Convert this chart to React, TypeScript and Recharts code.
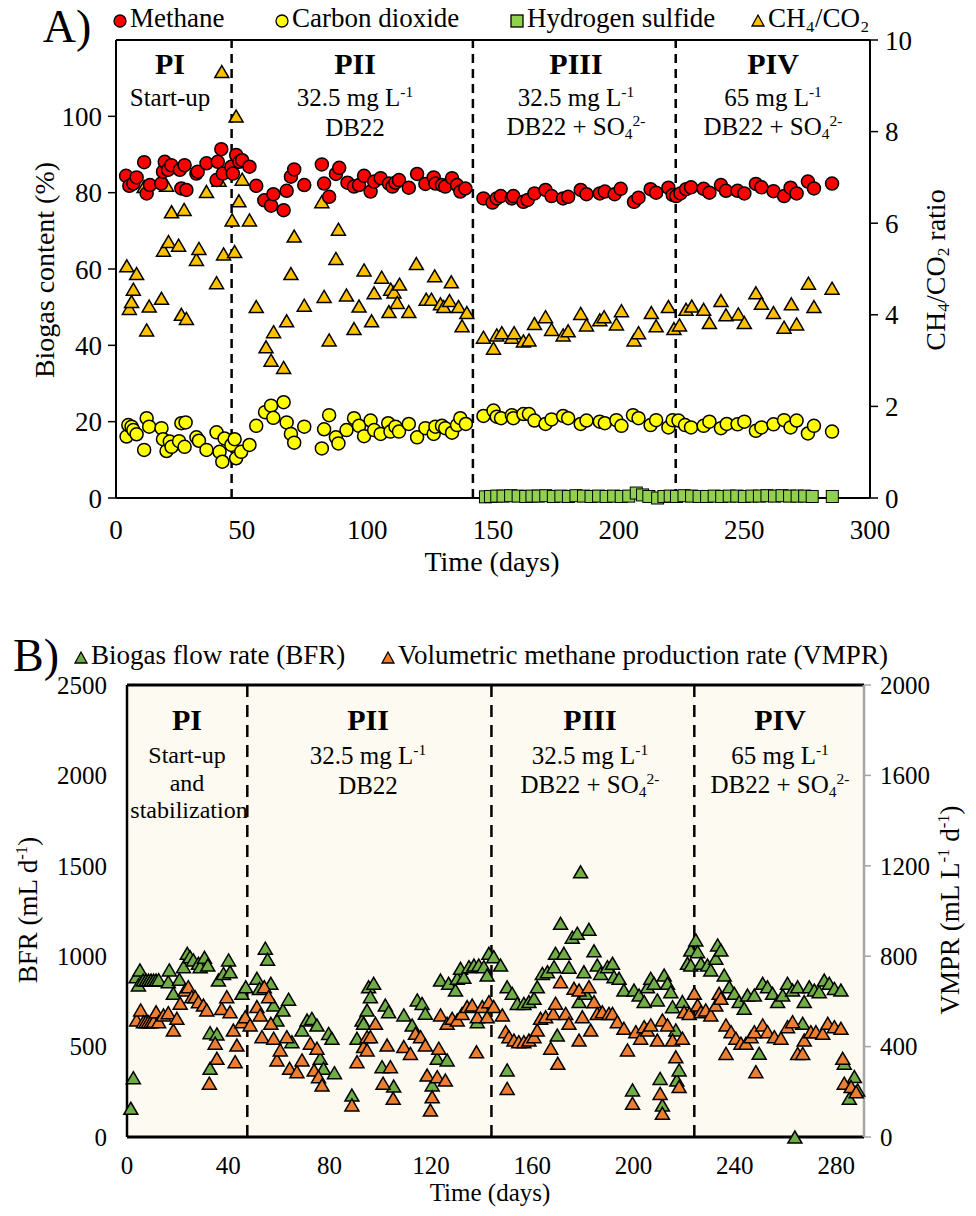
import React from 'react';
import {
  ScatterChart, Scatter, XAxis, YAxis, ReferenceLine, CartesianGrid,
} from 'recharts';

const FONT = '"Liberation Serif", "Times New Roman", serif';

// ---------- Panel A data: [day, value] ----------
const methane: [number, number][] = [
  [4, 84.4], [5.3, 81.8], [6.9, 82.4], [8.2, 84], [11.2, 88], [12.2, 79.8], [13.5, 82],
  [18, 82.4], [18.7, 85.5], [19.4, 88.1], [20.7, 86], [22, 87.2], [25.4, 86], [26, 81.1],
  [27.3, 87.2], [28, 80.7], [32, 85], [32.5, 85.5], [36, 87.7], [40, 83.3], [40.5, 88.1],
  [41.9, 91.4], [42.5, 85], [45.9, 86.8], [46.5, 85], [47.8, 89.9], [49.1, 88.1], [50.2, 88.5],
  [53.1, 86.8], [55.8, 81.8], [59, 78], [61.7, 76.6], [62.6, 79.6], [66.7, 75.4], [67.9, 80.5],
  [69.6, 84.2], [70.9, 86.1], [74.9, 82], [81.9, 87.4], [82.8, 82.4], [84.8, 78.9], [87.5, 84.9],
  [88.8, 86.5], [92.1, 82.6], [94.7, 81.6], [96.7, 82], [98.7, 84.4], [101.3, 80.3], [102.7, 82.9],
  [105.3, 83.8], [108.6, 82.4], [110, 81.6], [111.2, 82.6], [112.6, 83.3], [116.5, 81.3],
  [119.8, 84.9], [123.1, 82.3], [126.4, 84], [127.1, 82.4], [129.7, 82], [131, 81.6], [133.7, 83.8],
  [135.7, 82], [137, 80.3], [139, 81.1], [146.2, 78.5], [149.8, 77.4], [151.5, 78.5], [153.1, 79.1],
  [157.5, 78.5], [158.1, 79.1], [162.1, 77.6], [163.8, 78.1], [166.5, 79.8], [170.9, 80.7],
  [173.3, 79.1], [177.9, 78.5], [179.9, 78.9], [184.9, 80.7], [187.2, 79.6], [192.5, 79.8],
  [194.5, 80.3], [198.4, 79.6], [200.8, 81], [206.1, 77.6], [207.9, 78.7], [212.7, 80.9],
  [214.9, 80], [219.8, 81.3], [221.5, 79.4], [222.9, 79.1], [224.6, 79.8], [226.8, 80.9],
  [228.8, 81.4], [233.8, 81], [236.1, 80], [240.7, 82], [242.7, 80.5], [247.3, 80.5], [250, 79.8],
  [254.6, 82.3], [256.8, 81.4], [261.6, 80.4], [265.8, 79.1], [268.4, 81.3], [270.8, 79.8],
  [275.3, 82.9], [277.7, 81.1], [284.9, 82.4],
];

const carbonDioxide: [number, number][] = [
  [4.2, 16.1], [4.9, 19.1], [6.2, 18.7], [6.9, 17.8], [8.2, 16.7], [11.2, 12.6], [12.2, 20.9],
  [13.2, 18.7], [18.1, 18.3], [18.7, 15.4], [20.1, 12.3], [21.4, 14.8], [22.1, 13.4], [25.1, 14.9],
  [26, 19.6], [27.7, 19.8], [27.3, 13.4], [32, 15.9], [33, 15], [36, 12.6], [40, 17.2], [41.2, 12.1],
  [42.3, 9.5], [43.2, 15.6], [45.9, 13.9], [47.2, 15.4], [47.8, 10.4], [49.8, 12.1], [53.1, 13.9],
  [55.8, 18.9], [59.3, 22.5], [61.7, 24.2], [62.6, 21], [66.7, 25.1], [67.9, 19.8], [69.6, 16.8],
  [70.9, 14.5], [74.9, 18.7], [81.9, 13], [82.8, 18], [84.8, 21.7], [87.5, 15.9], [88.5, 14.3],
  [91.7, 17.8], [94.7, 20.9], [96.7, 18.9], [98.7, 16.2], [101.3, 20.3], [102.7, 17.8],
  [105.3, 16.8], [108.3, 19.6], [109.2, 17.4], [111.2, 18.7], [112.6, 17.4], [116.5, 19.4],
  [119.8, 15.9], [123.1, 18.3], [126.4, 16.8], [127.1, 18.7], [129.7, 18.9], [131, 18.3],
  [133.7, 17.1], [135.7, 19.1], [137, 20.9], [139.2, 19.4], [146.2, 21.5], [150.2, 22.9],
  [151.5, 21.3], [153.2, 20.9], [157.5, 21.7], [158.1, 20.9], [162.1, 22], [164.3, 22],
  [166.5, 20.3], [170.9, 19.4], [173.3, 20.6], [177.9, 21.5], [179.9, 20.9], [184.9, 19.4],
  [187.2, 20.3], [192.5, 20], [194.5, 19.6], [199.1, 20.4], [201.1, 18.9], [205.7, 21.7],
  [207.9, 20.9], [212.7, 19.1], [214.9, 20.4], [219.8, 18.5], [221.5, 20.4], [223.8, 20.3],
  [226.4, 19.1], [228.8, 18.5], [233.8, 18.9], [236.1, 20], [240.7, 18.3], [243, 19.4],
  [247.3, 19.3], [250, 20], [254.6, 17.6], [256.8, 18.5], [261.6, 19.3], [265.8, 20.4],
  [268.4, 18.5], [270.8, 20.3], [275.3, 16.9], [277.7, 18.9], [284.9, 17.4],
];

const hydrogenSulfide: [number, number][] = [
  [147, 0.3], [149, 0.4], [151.5, 0.5], [154, 0.5], [157, 0.6], [160, 0.5], [163, 0.4],
  [165.5, 0.5], [168, 0.5], [171, 0.6], [174, 0.4], [177, 0.5], [180, 0.4], [183, 0.6],
  [186, 0.5], [189, 0.4], [192, 0.5], [195, 0.4], [198, 0.5], [201, 0.4], [204, 0.5],
  [207, 1.3], [209.5, 0.8], [212, 0.4], [215.5, 0.0], [218, 0.4], [220.5, 0.5], [223, 0.4],
  [226, 0.6], [229, 0.5], [232, 0.4], [235, 0.4], [238, 0.5], [241, 0.4], [244, 0.5],
  [247, 0.5], [250, 0.4], [253, 0.5], [256, 0.5], [259, 0.6], [262, 0.5], [265, 0.6],
  [268, 0.5], [271, 0.5], [274, 0.5], [277, 0.4], [285, 0.4],
];

const ratio: [number, number][] = [
  [4.3, 5.07], [5.3, 4.14], [6.2, 4.29], [6.9, 4.56], [8.2, 4.9], [11.2, 6.8], [12.2, 3.67],
  [13.2, 4.19], [18.1, 4.36], [18.9, 5.41], [20.1, 6.83], [20.9, 5.6], [22.1, 6.25], [24.9, 5.52],
  [26, 4.01], [27.1, 6.3], [28, 3.92], [32, 5.21], [33, 5.45], [36, 6.69], [40, 4.7], [41, 6.94],
  [42.1, 9.31], [42.8, 5.33], [46.2, 6.07], [47.2, 5.38], [47.8, 8.34], [48.9, 6.49], [50.2, 6.96],
  [53.1, 6.07], [55.8, 4.18], [59.7, 3.3], [61.7, 3.01], [62.7, 3.63], [66.7, 2.85], [67.9, 3.87],
  [69.6, 4.9], [70.9, 5.72], [74.9, 4.21], [81.9, 6.47], [82.8, 4.4], [84.8, 3.45], [87.5, 5.23],
  [88.5, 5.87], [91.7, 4.43], [94.7, 3.7], [96.7, 4.19], [98.7, 4.98], [101.7, 3.87], [102.7, 4.48],
  [105.7, 4.82], [108.6, 4.07], [109.3, 4.56], [110.6, 4.5], [111.9, 4.27], [112.8, 4.67],
  [116.5, 4.07], [119.5, 5.12], [123.4, 4.34], [125.5, 4.34], [126.8, 4.85], [129.1, 4.24],
  [130.4, 4.18], [132.7, 4.31], [133.4, 4.72], [136.3, 4.18], [137.7, 3.76], [139.6, 4.05],
  [146.2, 3.51], [150.2, 3.27], [151.5, 3.56], [153.5, 3.61], [157.5, 3.51], [158.4, 3.61],
  [162.1, 3.43], [164.3, 3.45], [166.5, 3.81], [170.9, 3.96], [173.3, 3.68], [177.9, 3.56],
  [179.9, 3.65], [184.9, 4.03], [187.2, 3.78], [192.5, 3.89], [194.2, 3.96], [199.1, 3.8],
  [201.1, 4.09], [206.1, 3.45], [207.9, 3.61], [213, 4.05], [214.9, 3.76], [219.8, 4.18],
  [222, 3.7], [224.2, 3.78], [226.8, 4.12], [229.1, 4.19], [233.8, 4.12], [236.1, 3.83],
  [240.7, 4.31], [242.7, 4.0], [247.6, 4.02], [250, 3.83], [254.6, 4.48], [256.8, 4.25],
  [261.6, 4.05], [265.8, 3.73], [268.7, 4.24], [270.8, 3.8], [275.5, 4.69], [277.7, 4.18],
  [284.9, 4.58],
];

// ---------- Panel B data: [day, value] ----------
const bfr: [number, number][] = [
  [1.5, 159], [2.5, 328], [3.6, 887], [4.5, 841], [5.1, 924], [6.4, 868], [7.5, 868], [8.5, 868],
  [9.5, 868], [10.5, 868], [11.5, 868], [12.5, 870], [16.3, 859], [16.7, 924], [18.3, 795],
  [20.7, 872], [22.3, 942], [23.8, 1016], [24.9, 997], [26.2, 979], [28.2, 961], [28.9, 942],
  [30.6, 994], [31.9, 951], [32.8, 577], [32.8, 380], [35.5, 570], [36.1, 868], [38.1, 905],
  [40.1, 979], [40.7, 914], [45.4, 795], [46.9, 831], [51.3, 878], [52.3, 822], [54.6, 1044],
  [55.5, 983], [56.8, 850], [57.9, 730], [59.2, 647], [61.6, 702], [63.8, 762], [65.1, 527],
  [69.1, 592], [71.1, 647], [73, 656], [75, 619], [76.3, 435], [77.6, 380], [79.6, 573],
  [80.9, 546], [81.9, 356], [88.8, 232], [90.8, 546], [92.8, 647], [93.4, 629], [94.8, 702],
  [95.4, 831], [96.1, 776], [97.4, 850], [100.7, 389], [102, 730], [103.3, 693], [105.3, 282],
  [109.3, 675], [112.6, 619], [114.6, 758], [116.5, 739], [117.8, 684], [120.5, 288], [122.5, 435],
  [123.8, 868], [126.4, 426], [127, 850], [129.7, 813], [130.4, 878], [131.7, 933], [133, 883],
  [135, 942], [137, 951], [138.3, 638], [138.9, 951], [140.9, 942], [142.2, 896], [142.9, 1016],
  [144.8, 997], [147.5, 951], [150.1, 831], [150.1, 371], [152.1, 795], [154.1, 739], [156.7, 739],
  [158.7, 749], [160.7, 767], [162, 831], [164, 905], [166, 914], [168.6, 942], [169.2, 1016],
  [169.9, 564], [171.2, 1182], [172.5, 1016], [174.5, 939], [175.8, 1105], [177.8, 1127],
  [178.5, 749], [179.1, 1467], [180.4, 914], [181.1, 795], [182.4, 1149], [184.4, 1030],
  [185.7, 951], [187, 905], [189.7, 942], [191.7, 961], [192.3, 887], [194.3, 878], [196.2, 813],
  [199.6, 260], [200.2, 813], [202.2, 785], [204.2, 749], [205.5, 831], [206.8, 878], [208.1, 850],
  [209.4, 758], [210.5, 324], [211.4, 177], [212.1, 896], [213.4, 850], [214.7, 804], [215.4, 721],
  [216.7, 592], [217.1, 315], [218, 371], [219.3, 749], [221.3, 961], [222.6, 1034], [222.6, 951],
  [224.6, 1090], [225.3, 1025], [226.6, 961], [229.2, 951], [230.5, 924], [232.5, 988],
  [233.2, 1062], [234.5, 1034], [235.8, 896], [237.8, 831], [239.8, 795], [241.7, 749],
  [243.7, 712], [245, 785], [247.7, 785], [249.6, 463], [251, 850], [252.9, 831], [254.9, 795],
  [256.9, 749], [258.9, 785], [260.8, 850], [262.8, 813], [263.7, 0], [264.8, 831], [266.8, 629],
  [267.4, 749], [269.4, 831], [271.4, 813], [273.3, 804], [275.3, 868], [277.3, 850], [279.3, 822],
  [281.9, 813], [283.2, 408], [285.2, 214], [287.2, 334], [288.5, 260],
];

const vmpr: [number, number][] = [
  [3.8, 518], [5.4, 562], [6.5, 510], [7.5, 510], [8.5, 510], [9.5, 510], [10.5, 512], [11.5, 554],
  [12.5, 510], [14.4, 540], [16.3, 550], [18.3, 473], [19.7, 525], [21, 592], [22.9, 650],
  [24.2, 665], [25.6, 621], [26.9, 621], [28.2, 599], [30.2, 584], [31.5, 562], [32.5, 238],
  [34.8, 415], [35.5, 348], [37.4, 569], [39.4, 621], [40.7, 554], [42, 473], [42.7, 333],
  [43.4, 407], [45.4, 510], [46.7, 532], [48.6, 496], [51.3, 577], [52.6, 540], [53.3, 444],
  [54.2, 665], [55.9, 621], [56.8, 503], [57.9, 437], [59.2, 341], [60.5, 385], [63.1, 444],
  [64.2, 304], [67.1, 289], [69.1, 341], [72.4, 415], [73.9, 296], [75, 393], [75.6, 267],
  [77, 230], [88.8, 142], [90.8, 333], [93.4, 400], [94.8, 444], [94.8, 385], [96.1, 444],
  [98.1, 503], [101.1, 238], [102.7, 407], [104, 311], [105.1, 171], [109.3, 400], [111.9, 370],
  [113.9, 459], [115.9, 444], [117.8, 407], [118.5, 274], [119.8, 119], [120.5, 178], [122.5, 267],
  [123.1, 393], [123.8, 540], [125.7, 252], [126.4, 503], [128.4, 525], [130.4, 518], [132.3, 547],
  [134.3, 577], [136.3, 584], [138, 377], [138.3, 532], [140.3, 577], [142.2, 532], [142.9, 599],
  [144.8, 577], [148.2, 540], [149.5, 466], [150.1, 215], [150.8, 444], [152.8, 429], [154.7, 422],
  [156.7, 422], [158.7, 429], [160.7, 444], [162, 473], [163.3, 525], [165.3, 532], [167.3, 393],
  [168.3, 547], [169.2, 592], [170.1, 326], [171.2, 687], [173.2, 547], [174.5, 503], [176.5, 658],
  [178.5, 650], [178.5, 429], [179.8, 532], [182.4, 665], [183.1, 473], [184.4, 599], [185.7, 547],
  [187.7, 554], [190.3, 547], [191.7, 547], [193.6, 510], [196.2, 481], [197.6, 385], [199.6, 149],
  [200.9, 466], [202.8, 437], [204.2, 488], [205.5, 473], [206.8, 496], [209.4, 429], [210.5, 193],
  [211.4, 105], [211.4, 518], [213.4, 496], [215.4, 429], [216.7, 355], [218, 223], [219.3, 437],
  [220, 554], [222, 547], [224, 636], [225.3, 584], [226.6, 554], [228.5, 562], [230.5, 540],
  [232.5, 584], [233.8, 636], [234.5, 614], [236.5, 370], [236.5, 496], [238.5, 466], [240.4, 437],
  [242.4, 415], [244.4, 415], [246.4, 444], [247.7, 466], [248.3, 289], [251, 496], [252.9, 466],
  [255.6, 444], [258.2, 437], [260.8, 488], [262.8, 510], [264.8, 370], [266.8, 370], [267.4, 429],
  [270, 466], [272, 466], [274.7, 459], [276.7, 503], [279.3, 488], [281.9, 481], [282.6, 348],
  [283.2, 238], [285.9, 223], [287.9, 200],
];

const xTicksA = [0, 50, 100, 150, 200, 250, 300];
const leftTicksA = [0, 20, 40, 60, 80, 100];
const rightTicksA = [0, 2, 4, 6, 8, 10];
const phaseDaysA = [46, 142, 222.7];

const xTicksB = [0, 40, 80, 120, 160, 200, 240, 280];
const leftTicksB = [0, 500, 1000, 1500, 2000, 2500];
const rightTicksB = [0, 400, 800, 1200, 1600, 2000];
const phaseDaysB = [47.5, 143.9, 224];

const toPts = (arr: [number, number][]) => arr.map(([x, y]) => ({ x, y }));

const circle = (fill: string) => (p: any) => (
  <circle cx={p.cx} cy={p.cy} r={6.5} fill={fill} stroke="#000" strokeWidth={1.5} />
);
const square = (fill: string) => (p: any) => (
  <rect x={p.cx - 6} y={p.cy - 6} width={12} height={12} fill={fill} stroke="#000" strokeWidth={1} />
);
const triangle = (fill: string, w = 7, h = 6) => (p: any) => (
  <polygon
    points={`${p.cx},${p.cy - h} ${p.cx + w},${p.cy + h} ${p.cx - w},${p.cy + h}`}
    fill={fill} stroke="#000" strokeWidth={1.5} strokeLinejoin="miter"
  />
);

function T({ x, y, size = 24, bold = false, rotate = 0, children }: any) {
  return (
    <div
      style={{
        position: 'absolute', left: x, top: y, fontSize: size, fontWeight: bold ? 700 : 400,
        transform: `translate(-50%, -50%) rotate(${rotate}deg)`, whiteSpace: 'nowrap',
        lineHeight: 1, fontFamily: FONT, color: '#000', pointerEvents: 'none',
      }}
    >
      {children}
    </div>
  );
}

const Sup = ({ children }: any) => (
  <span style={{ fontSize: '0.62em', verticalAlign: '0.6em' }}>{children}</span>
);
const Sub = ({ children }: any) => (
  <span style={{ fontSize: '0.62em', verticalAlign: '-0.25em' }}>{children}</span>
);

function Marker({ kind, fill }: { kind: string; fill: string }) {
  return (
    <svg width={16} height={16} style={{ verticalAlign: 'middle', marginRight: 2 }}>
      {kind === 'circle' && <circle cx={8} cy={8} r={6} fill={fill} stroke="#000" strokeWidth={1.3} />}
      {kind === 'square' && <rect x={2} y={2} width={12} height={12} fill={fill} stroke="#000" strokeWidth={1.3} />}
      {kind === 'triangle' && <polygon points="8,2 14,13 2,13" fill={fill} stroke="#000" strokeWidth={1.3} />}
    </svg>
  );
}

const tickA = { fill: '#000', fontSize: 27, fontFamily: FONT };
const tickB = { fill: '#000', fontSize: 25, fontFamily: FONT };

export default function App() {
  return (
    <div style={{ position: 'relative', width: 976, height: 1216, margin: -8, background: '#fff', fontFamily: FONT }}>
      {/* Panel A */}
      <div style={{ position: 'absolute', left: 0, top: 0 }}>
        <ScatterChart width={976} height={600} margin={{ top: 40, right: 36, bottom: 62, left: 46 }}>
          <XAxis
            type="number" dataKey="x" domain={[0, 300]} ticks={xTicksA}
            tick={tickA} tickLine={false} tickSize={8} tickMargin={14} height={40}
            axisLine={{ stroke: '#000', strokeWidth: 2 }}
          />
          <YAxis
            yAxisId="left" type="number" dataKey="y" domain={[0, 120]} ticks={leftTicksA}
            tick={tickA} tickSize={8} tickMargin={6} width={70}
            axisLine={{ stroke: '#000', strokeWidth: 2 }} tickLine={{ stroke: '#000', strokeWidth: 1.5 }}
          />
          <YAxis
            yAxisId="right" orientation="right" type="number" dataKey="y" domain={[0, 10]} ticks={rightTicksA}
            tick={tickA} tickSize={8} tickMargin={7} width={70}
            axisLine={{ stroke: '#000', strokeWidth: 2 }} tickLine={{ stroke: '#000', strokeWidth: 1.5 }}
          />
          <ReferenceLine yAxisId="left" y={120} stroke="#000" strokeWidth={2} />
          {phaseDaysA.map((d) => (
            <ReferenceLine key={d} yAxisId="left" x={d} stroke="#000" strokeWidth={2.5} strokeDasharray="9 6" />
          ))}
          <Scatter yAxisId="right" data={toPts(ratio)} shape={triangle('#FFC000')} isAnimationActive={false} />
          <Scatter yAxisId="left" data={toPts(carbonDioxide)} shape={circle('#FFFF00')} isAnimationActive={false} />
          <Scatter yAxisId="left" data={toPts(methane)} shape={circle('#FF0000')} isAnimationActive={false} />
          <Scatter yAxisId="left" data={toPts(hydrogenSulfide)} shape={square('#92D050')} isAnimationActive={false} />
        </ScatterChart>
      </div>

      {/* Panel A texts */}
      <T x={67} y={27} size={46}>A)</T>
      <div style={{ position: 'absolute', left: 112, top: 4, fontSize: 27, lineHeight: '28px', whiteSpace: 'nowrap' }}>
        <span style={{ position: 'absolute', left: 0 }}><Marker kind="circle" fill="#FF0000" />Methane</span>
        <span style={{ position: 'absolute', left: 162 }}><Marker kind="circle" fill="#FFFF00" />Carbon dioxide</span>
        <span style={{ position: 'absolute', left: 397 }}><Marker kind="square" fill="#92D050" />Hydrogen sulfide</span>
        <span style={{ position: 'absolute', left: 638 }}><Marker kind="triangle" fill="#FFC000" />CH₄/CO₂</span>
      </div>

      <T x={170} y={64} size={30} bold>PI</T>
      <T x={170} y={97} size={25}>Start-up</T>
      <T x={355} y={64} size={30} bold>PII</T>
      <T x={355} y={97} size={25}>32.5 mg L<Sup>-1</Sup></T>
      <T x={355} y={127} size={25}>DB22</T>
      <T x={576} y={64} size={30} bold>PIII</T>
      <T x={576} y={97} size={25}>32.5 mg L<Sup>-1</Sup></T>
      <T x={576} y={127} size={25}>DB22 + SO<Sub>4</Sub><Sup>2-</Sup></T>
      <T x={773} y={64} size={30} bold>PIV</T>
      <T x={773} y={97} size={25}>65 mg L<Sup>-1</Sup></T>
      <T x={773} y={127} size={25}>DB22 + SO<Sub>4</Sub><Sup>2-</Sup></T>

      <T x={45} y={270} size={28} rotate={-90}>Biogas content (%)</T>
      <T x={937} y={270} size={28} rotate={-90}>CH<Sub>4</Sub>/CO<Sub>2</Sub> ratio</T>
      <T x={492} y={562} size={28}>Time (days)</T>

      {/* Panel B */}
      <div style={{ position: 'absolute', left: 0, top: 600 }}>
        <ScatterChart width={976} height={616} margin={{ top: 85, right: 42, bottom: 39, left: 57 }}>
          <CartesianGrid horizontal={false} vertical={false} fill="#FDFAF2" yAxisId="left" />
          <XAxis
            type="number" dataKey="x" domain={[0, 291]} ticks={xTicksB}
            tick={tickB} tickLine={false} tickSize={8} tickMargin={11} height={40}
            axisLine={{ stroke: '#000', strokeWidth: 3 }}
          />
          <YAxis
            yAxisId="left" type="number" dataKey="y" domain={[0, 2500]} ticks={leftTicksB}
            tick={tickB} tickLine={false} tickSize={12} tickMargin={8} width={70}
            axisLine={{ stroke: '#000', strokeWidth: 2.5 }}
          />
          <YAxis
            yAxisId="right" orientation="right" type="number" dataKey="y" domain={[0, 2000]} ticks={rightTicksB}
            tick={tickB} tickSize={7} tickMargin={9} width={70}
            axisLine={{ stroke: '#A6A6A6', strokeWidth: 2.5 }} tickLine={{ stroke: '#A6A6A6', strokeWidth: 1.5 }}
          />
          <ReferenceLine yAxisId="left" y={2500} stroke="#000" strokeWidth={3} />
          {phaseDaysB.map((d) => (
            <ReferenceLine key={d} yAxisId="left" x={d} stroke="#000" strokeWidth={2.5} strokeDasharray="12 8" />
          ))}
          <Scatter yAxisId="left" data={toPts(bfr)} shape={triangle('#70AD47', 7, 6)} isAnimationActive={false} />
          <Scatter yAxisId="right" data={toPts(vmpr)} shape={triangle('#ED7D31', 7, 6)} isAnimationActive={false} />
        </ScatterChart>
      </div>

      {/* Panel B texts */}
      <T x={36} y={656} size={46}>B)</T>
      <div style={{ position: 'absolute', left: 73, top: 641, fontSize: 27, lineHeight: '28px', whiteSpace: 'nowrap' }}>
        <span style={{ position: 'absolute', left: 0 }}><Marker kind="triangle" fill="#70AD47" />Biogas flow rate (BFR)</span>
        <span style={{ position: 'absolute', left: 307 }}><Marker kind="triangle" fill="#ED7D31" />Volumetric methane production rate (VMPR)</span>
      </div>

      <T x={187} y={720} size={30} bold>PI</T>
      <T x={187} y={755} size={24}>Start-up</T>
      <T x={187} y={783} size={24}>and</T>
      <T x={189} y={810} size={24}>stabilization</T>
      <T x={368} y={720} size={30} bold>PII</T>
      <T x={368} y={755} size={25}>32.5 mg L<Sup>-1</Sup></T>
      <T x={368} y={785} size={25}>DB22</T>
      <T x={590} y={720} size={30} bold>PIII</T>
      <T x={590} y={755} size={25}>32.5 mg L<Sup>-1</Sup></T>
      <T x={590} y={785} size={25}>DB22 + SO<Sub>4</Sub><Sup>2-</Sup></T>
      <T x={780} y={720} size={30} bold>PIV</T>
      <T x={780} y={755} size={25}>65 mg L<Sup>-1</Sup></T>
      <T x={780} y={785} size={25}>DB22 + SO<Sub>4</Sub><Sup>2-</Sup></T>

      <T x={28} y={910} size={27} rotate={-90}>BFR (mL d<Sup>-1</Sup>)</T>
      <T x={950} y={910} size={27} rotate={-90}>VMPR (mL L<Sup>-1</Sup> d<Sup>-1</Sup>)</T>
      <T x={490} y={1192} size={25}>Time (days)</T>
    </div>
  );
}
